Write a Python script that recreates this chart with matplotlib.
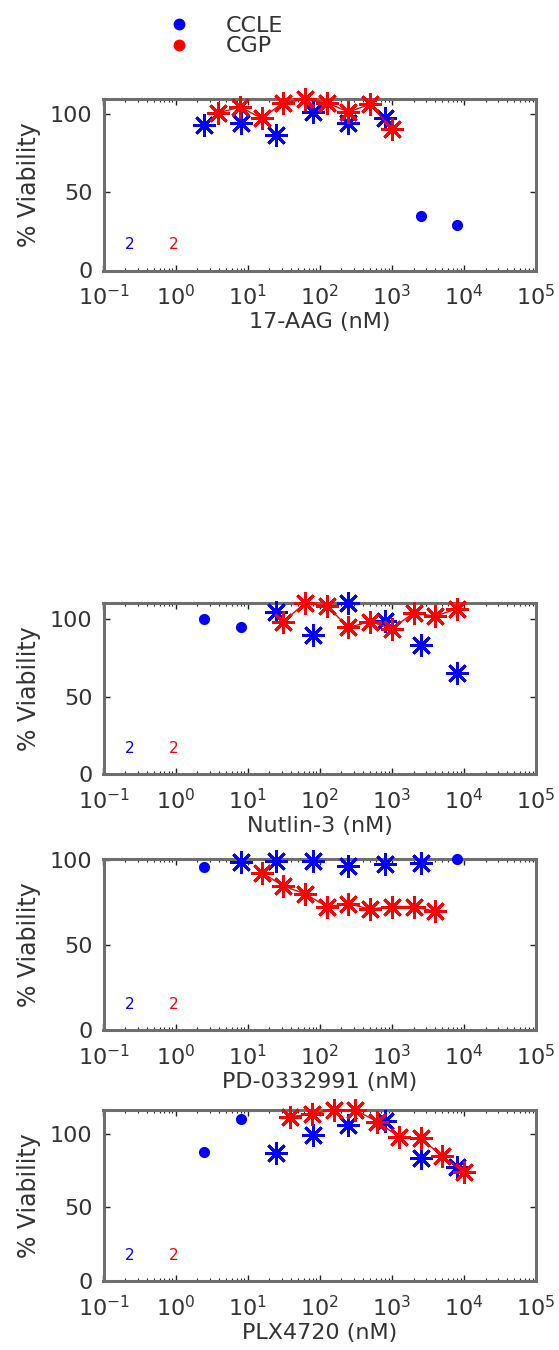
import numpy as np
import matplotlib
matplotlib.use("Agg")
import matplotlib.pyplot as plt
from matplotlib.lines import Line2D
from matplotlib.ticker import LogLocator
import matplotlib.transforms as mtransforms

# ---------------- data ----------------
drugs = ["17-AAG", "Nutlin-3", "PD-0332991", "PLX4720"]

ccle_conc = [2.5, 8, 25, 80, 250, 800, 2500, 8000]
ccle_17aag = [93, 94, 86.5, 101, 94, 97, 35, 29]
ccle_nutlin = [100, 94.7, 105, 89.7, 110.5, 99, 83.5, 65]
ccle_pd = [95.8, 98.8, 99.2, 99.2, 96.5, 97.5, 97.9, 100.4]
ccle_plx = [87.8, 109.7, 86.6, 99.1, 105.9, 108.6, 83.7, 77.6]

cgp_conc_17aag = [3.9, 7.8, 15.6, 31.25, 62.5, 125, 250, 500, 1000]
cgp_17aag = [100.4, 104.3, 97, 107, 109, 107, 101, 106, 90]
cgp_conc_nutlin = [31.25, 62.5, 125, 250, 500, 1000, 2000, 4000, 8000]
cgp_nutlin = [98.5, 110.5, 108.7, 94.7, 98.5, 94, 104, 102, 106.8]
cgp_conc_pd = [15.6, 31.25, 62.5, 125, 250, 500, 1000, 2000, 4000]
cgp_pd = [92.4, 84.6, 79.9, 72.5, 74.1, 71, 72.5, 72.5, 69.6]
cgp_conc_plx = [39, 78, 156, 312, 625, 1250, 2500, 5000, 10000]
cgp_plx = [111.6, 113.4, 116.1, 116.1, 108.2, 98, 96.8, 85, 73.7]

n_label = "2"
series_names = ["CCLE", "CGP"]
yticks = [0, 50, 100]
xlim = (1e-1, 1e5)

panels = [
    (drugs[0], ccle_17aag, cgp_conc_17aag, cgp_17aag),
    (drugs[1], ccle_nutlin, cgp_conc_nutlin, cgp_nutlin),
    (drugs[2], ccle_pd, cgp_conc_pd, cgp_pd),
    (drugs[3], ccle_plx, cgp_conc_plx, cgp_plx),
]

# ---------------- style ----------------
plt.rcParams['font.family'] = ['DejaVu Sans']
W, H = 559, 1350
fig = plt.figure(figsize=(W / 100, H / 100), dpi=100)

BLUE = '#0000ff'
RED = '#ff0000'
TXT = '#333333'
FRAME = '#6e6e6e'
FS = 16

left = 103.5 / W
width = (536 - 103.5) / W
bottoms_px = [270.5, 774, 1030, 1281]
height = 171 / H

star = (8, 2, 0)

for (name, ccle_vals, cgp_c, cgp_v), bpx in zip(panels, bottoms_px):
    ax = fig.add_axes([left, 1 - bpx / H, width, height])
    cc = np.array(ccle_conc, dtype=float)
    cv = np.array(ccle_vals, dtype=float)
    gc = np.array(cgp_c, dtype=float)
    gv = np.array(cgp_v, dtype=float)
    overlap = (cc >= gc.min() / 2) & (cc <= gc.max())

    ax.plot(cc[~overlap], cv[~overlap], 'o', color=BLUE, ms=7,
            mec=BLUE, clip_on=False, zorder=3)
    ax.plot(cc[overlap], cv[overlap], linestyle='none', marker=star,
            color=BLUE, ms=16.5, mew=2.0, clip_on=False, zorder=3)
    ax.plot(gc, gv, '-', color=RED, lw=1.0, marker=star, ms=16.5, mew=2.0,
            clip_on=False, zorder=4)

    ax.set_xscale('log')
    ax.set_xlim(*xlim)
    ymax = max(cv.max(), gv.max())
    ax.set_ylim(0, ymax)
    ax.set_yticks(yticks)
    ax.xaxis.set_major_locator(LogLocator(base=10, numticks=10))
    ax.xaxis.set_minor_locator(LogLocator(base=10, subs=np.arange(2, 10), numticks=20))

    for sp in ax.spines.values():
        sp.set_color(FRAME)
        sp.set_linewidth(2.2)
        sp.set_zorder(2)
    ax.tick_params(which='both', direction='in', top=True, right=True,
                   color='#222222', labelcolor=TXT, labelsize=FS)
    ax.tick_params(which='major', length=4, width=1.0)
    ax.tick_params(which='minor', length=2, width=0.8)
    ax.tick_params(axis='y', pad=8)
    ax.tick_params(axis='x', pad=10)

    ax.set_xlabel(f"{name} (nM)", fontsize=FS, color=TXT, labelpad=2)
    ax.set_ylabel("% Viability", fontsize=FS + 1, color=TXT, labelpad=6)

    trans = mtransforms.blended_transform_factory(ax.transData, ax.transAxes)
    ax.text(0.2, 0.15, n_label, color=BLUE, fontsize=11, transform=trans,
            ha='left', va='center')
    ax.text(0.8, 0.15, n_label, color=RED, fontsize=11, transform=trans,
            ha='left', va='center')

handles = [Line2D([], [], linestyle='none', marker='o', color=BLUE, ms=7.5),
           Line2D([], [], linestyle='none', marker='o', color=RED, ms=7.5)]
leg = fig.legend(handles, series_names, loc='upper left',
                 bbox_to_anchor=(168 / W, 1 - 16 / H), frameon=False,
                 fontsize=FS, handlelength=1.0, handletextpad=1.6,
                 labelspacing=0.02, borderpad=0, borderaxespad=0)
for t in leg.get_texts():
    t.set_color(TXT)

fig.savefig("out.png", dpi=100)
